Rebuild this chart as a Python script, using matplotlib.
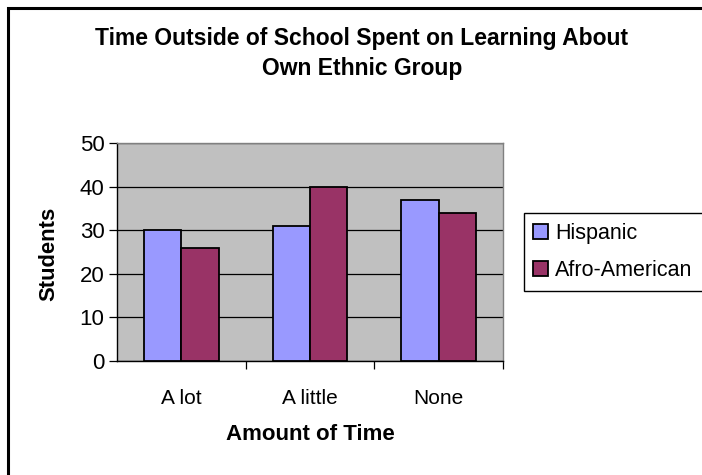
import matplotlib
matplotlib.use("Agg")
import matplotlib.pyplot as plt
from matplotlib.patches import Rectangle
import numpy as np

plt.rcParams['font.family'] = ['Liberation Sans', 'DejaVu Sans']

categories = ["A lot", "A little", "None"]
series_names = ["Hispanic", "Afro-American"]
hispanic = [30, 31, 37]
afro_american = [26, 40, 34]
yticks = [0, 10, 20, 30, 40, 50]

W, H = 702, 475
fig = plt.figure(figsize=(W / 100, H / 100), dpi=100)
fig.patch.set_facecolor("white")

def fx(px):
    return px / W

def fy(py):
    return 1 - py / H

# outer frame (extends past right/bottom edge)
fig.patches.append(Rectangle((fx(8), fy(480)), fx(720) - fx(8), fy(8) - fy(480),
                             transform=fig.transFigure, fill=False,
                             edgecolor="black", linewidth=2.2, zorder=0))

ax = fig.add_axes([fx(117), fy(361), fx(503) - fx(117), fy(143) - fy(361)])
ax.set_facecolor("#C0C0C0")

x = np.arange(len(categories))
bw = 0.29
b1 = ax.bar(x - bw / 2, hispanic, bw, color="#9999FF", edgecolor="black",
            linewidth=1.3, zorder=3, label=series_names[0])
b2 = ax.bar(x + bw / 2, afro_american, bw, color="#993366", edgecolor="black",
            linewidth=1.3, zorder=3, label=series_names[1])

ax.set_xlim(-0.5, len(categories) - 0.5)
ax.set_ylim(0, 50)
ax.set_yticks(yticks)
ax.set_yticklabels([str(v) for v in yticks], fontsize=16)
ax.yaxis.grid(True, color="black", linewidth=0.9, zorder=1)
ax.set_axisbelow(True)

ax.set_xticks(x)
ax.set_xticklabels(categories, fontsize=15)
ax.tick_params(axis="x", length=0, pad=20)
ax.set_xticks(np.arange(len(categories)) + 0.5, minor=True)
ax.tick_params(axis="x", which="minor", length=6, width=0.9, direction="out")
ax.tick_params(axis="y", length=6, width=0.9, direction="out", pad=3)

for s in ["left", "bottom"]:
    ax.spines[s].set_color("black")
    ax.spines[s].set_linewidth(1.0)
for s in ["top", "right"]:
    ax.spines[s].set_color("#808080")
    ax.spines[s].set_linewidth(1.0)

fig.text(fx(49), fy(254), "Students", rotation=90, ha="center", va="center",
         fontsize=15.8, fontweight="bold")
fig.text(fx(310), fy(435), "Amount of Time", ha="center", va="center",
         fontsize=16, fontweight="bold")

fig.text(fx(362), fy(39), "Time Outside of School Spent on Learning About",
         ha="center", va="center", fontsize=16.5, fontweight="bold")
fig.text(fx(362), fy(69), "Own Ethnic Group",
         ha="center", va="center", fontsize=16.5, fontweight="bold")

# legend box
fig.patches.append(Rectangle((fx(524), fy(291)), fx(720) - fx(524), fy(213) - fy(291),
                             transform=fig.transFigure, fill=True, facecolor="white",
                             edgecolor="black", linewidth=1.0, zorder=1))
leg = fig.legend(handles=[b1, b2], labels=series_names, loc="upper left",
                 bbox_to_anchor=(fx(529), fy(219)), frameon=False, fontsize=15.5,
                 handlelength=0.7, handleheight=0.7, handletextpad=0.3,
                 labelspacing=0.75, borderaxespad=0, borderpad=0.2)

fig.savefig("out.png", dpi=100)
